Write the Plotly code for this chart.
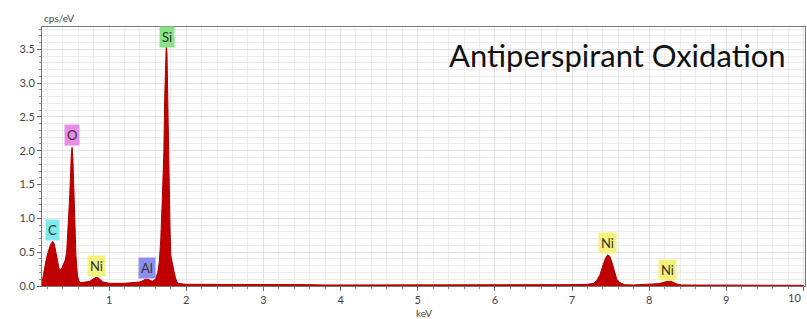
import plotly.graph_objects as go

# Spectrum data (keV, cps/eV)
energy_kev = [0.13, 0.15, 0.17, 0.19, 0.21, 0.23, 0.25, 0.27, 0.29, 0.31, 0.33, 0.35, 0.37, 0.39,
              0.41, 0.43, 0.45, 0.47, 0.49, 0.51, 0.52, 0.53, 0.55, 0.57, 0.59, 0.61, 0.63, 0.65,
              0.70, 0.75, 0.80, 0.83, 0.86, 0.89, 0.92, 0.96, 1.00, 1.05, 1.10, 1.15, 1.20, 1.25,
              1.30, 1.35, 1.40, 1.44, 1.47, 1.50, 1.53, 1.56, 1.60, 1.63, 1.65, 1.67, 1.69, 1.70,
              1.71, 1.72, 1.73, 1.74, 1.75, 1.76, 1.77, 1.78, 1.79, 1.80, 1.82, 1.84, 1.86, 1.88,
              1.90, 1.93, 1.96, 2.00, 2.20, 2.40, 2.60, 2.80, 3.00, 3.20, 3.40, 3.60, 3.80, 4.00,
              4.20, 4.40, 4.60, 4.80, 5.00, 5.20, 5.40, 5.60, 5.80, 6.00, 6.20, 6.40, 6.60, 6.80,
              7.00, 7.20, 7.28, 7.32, 7.36, 7.40, 7.43, 7.46, 7.49, 7.52, 7.55, 7.58, 7.62, 7.68,
              7.80, 7.90, 8.00, 8.06, 8.12, 8.18, 8.24, 8.28, 8.32, 8.36, 8.42, 8.60, 8.80, 9.00,
              9.20, 9.40, 9.60, 9.80, 10.00]
counts_cps = [0.05, 0.15, 0.30, 0.42, 0.52, 0.58, 0.63, 0.66, 0.62, 0.50, 0.35, 0.26, 0.24, 0.27,
              0.33, 0.38, 0.50, 0.85, 1.35, 1.95, 2.05, 1.90, 1.20, 0.45, 0.15, 0.07, 0.05, 0.05,
              0.06, 0.07, 0.10, 0.13, 0.12, 0.09, 0.06, 0.05, 0.04, 0.04, 0.035, 0.04, 0.04, 0.045,
              0.045, 0.05, 0.06, 0.08, 0.10, 0.10, 0.08, 0.07, 0.10, 0.20, 0.35, 0.70, 1.30, 1.60,
              2.00, 2.75, 3.50, 3.55, 3.45, 2.60, 2.00, 1.30, 0.80, 0.45, 0.30, 0.22, 0.12, 0.06,
              0.04, 0.03, 0.03, 0.025, 0.025, 0.02, 0.03, 0.025, 0.02, 0.025, 0.02, 0.02, 0.015, 0.015,
              0.02, 0.015, 0.015, 0.02, 0.015, 0.015, 0.015, 0.01, 0.015, 0.015, 0.015, 0.02, 0.015, 0.015,
              0.02, 0.025, 0.04, 0.08, 0.16, 0.30, 0.40, 0.46, 0.44, 0.34, 0.20, 0.10, 0.05, 0.02,
              0.015, 0.02, 0.03, 0.035, 0.035, 0.05, 0.07, 0.07, 0.05, 0.03, 0.015, 0.015, 0.01, 0.015,
              0.01, 0.015, 0.01, 0.01, 0.01]

# Element labels
label_text = ["C", "O", "Ni", "Al", "Si", "Ni", "Ni"]
label_x = [0.27, 0.52, 0.84, 1.49, 1.75, 7.46, 8.24]
label_y = [0.83, 2.23, 0.29, 0.26, 3.68, 0.64, 0.23]
label_bg = ["#7fe9ee", "#e88ce8", "#f4f27e", "#8c8ff0", "#86e486", "#f4f27e", "#f4f27e"]

x_ticks = [1, 2, 3, 4, 5, 6, 7, 8, 9]
x_last_tick = 10
y_ticks = [0.0, 0.5, 1.0, 1.5, 2.0, 2.5, 3.0, 3.5]

fig = go.Figure()
fig.add_trace(go.Scatter(
    x=energy_kev, y=counts_cps, mode="lines",
    line=dict(color="#b00000", width=1),
    fill="tozeroy", fillcolor="#c00000",
    hoverinfo="skip", showlegend=False,
))

for t, x, y, bg in zip(label_text, label_x, label_y, label_bg):
    fig.add_annotation(x=x, y=y, text=t, showarrow=False, bgcolor=bg,
                       font=dict(family="Lato", size=13, color="#333333"),
                       borderpad=2)

fig.add_annotation(xref="paper", yref="paper", x=0.978, y=0.89, xanchor="right", yanchor="middle",
                   text="Antiperspirant Oxidation", showarrow=False,
                   font=dict(family="Lato", size=31, color="#111111"))
fig.add_annotation(xref="paper", yref="paper", x=0.0, y=1.0, xanchor="left", yanchor="bottom",
                   text="cps/eV", showarrow=False, yshift=1,
                   font=dict(family="Lato", size=10, color="#444444"))
fig.add_annotation(xref="paper", yref="paper", x=0.5, y=0.0, xanchor="center", yanchor="top",
                   text="keV", showarrow=False, yshift=-19,
                   font=dict(family="Lato", size=10, color="#444444"))
# last x tick label sits at the right edge
fig.add_annotation(x=x_last_tick, yref="paper", y=0.0, xanchor="right", yanchor="top",
                   text=str(x_last_tick), showarrow=False, yshift=-3,
                   font=dict(family="Lato", size=11, color="#444444"))

fig.update_xaxes(range=[0.13, 10.02], tickvals=x_ticks + [x_last_tick],
                 ticktext=[str(v) for v in x_ticks] + [""],
                 ticks="outside", ticklen=4, tickcolor="#666666", automargin=False,
                 showgrid=True, gridcolor="#e2e2e2", gridwidth=1,
                 minor=dict(dtick=0.2, tick0=0, ticks="outside", ticklen=2, tickcolor="#888888",
                            showgrid=True, gridcolor="#ececec"),
                 showline=True, linecolor="#777777", mirror=True, zeroline=False,
                 tickfont=dict(family="Lato", size=11, color="#444444"))
fig.update_yaxes(range=[0, 3.83], tickvals=y_ticks, ticktext=[f"{v:.1f}" for v in y_ticks],
                 ticks="outside", ticklen=4, tickcolor="#666666", automargin=False,
                 showgrid=True, gridcolor="#e2e2e2", gridwidth=1,
                 minor=dict(dtick=0.1, tick0=0, ticks="outside", ticklen=2, tickcolor="#888888",
                            showgrid=True, gridcolor="#ececec"),
                 showline=True, linecolor="#777777", mirror=True, zeroline=False,
                 tickfont=dict(family="Lato", size=11, color="#444444"))

fig.update_layout(width=807, height=319, margin=dict(l=42, r=2, t=27, b=33),
                  plot_bgcolor="white", paper_bgcolor="white")

fig.write_html("out.html", config={"displayModeBar": False},
               post_script="document.body.style.margin='0';document.body.style.overflow='hidden';")
